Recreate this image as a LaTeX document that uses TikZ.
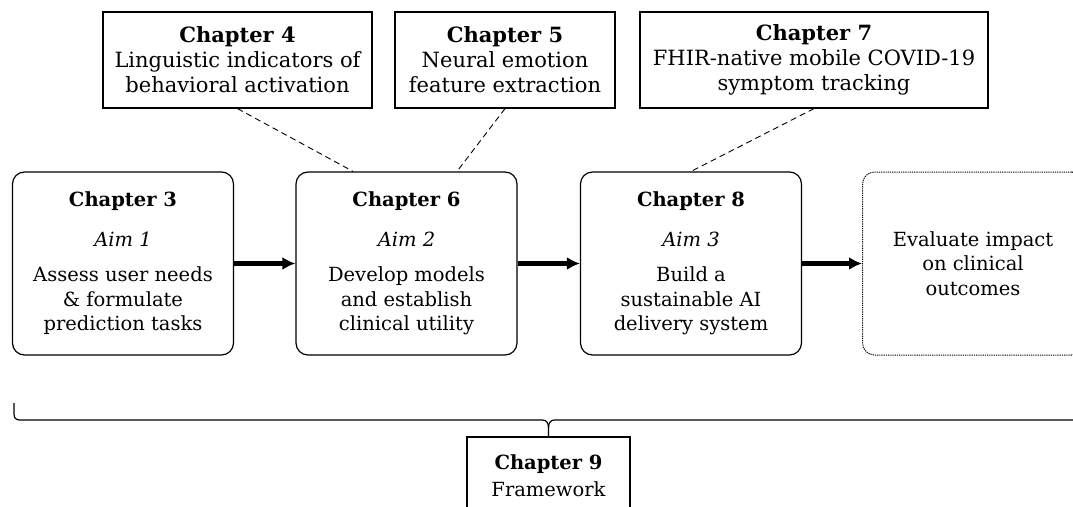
\documentclass[tikz,border=0pt]{standalone}
\usepackage{fontspec}
\setmainfont{DejaVu Serif}
\usepackage{tikz}
\usetikzlibrary{arrows.meta}

\tikzset{
	aimbox/.style={draw, fill=white, rounded corners=12pt, line width=1.2pt, minimum width=221pt, minimum height=183pt, align=center, inner sep=2pt, font=\fontsize{19.5}{24.5}\selectfont},
	sidebox/.style={draw, fill=white, line width=1.2pt, minimum height=96pt, align=center, inner sep=2pt, font=\fontsize{21}{25}\selectfont},
	flow/.style={-{Latex[length=13pt, width=13pt]}, line width=4.5pt},
	link/.style={dashed, dash pattern=on 6pt off 4pt, line width=0.9pt},
	brace/.style={line width=1.2pt}
}

\begin{document}
\begin{tikzpicture}[x=1pt, y=-1pt]

	% picture frame
	\useasboundingbox (0,0) rectangle (1073,506);
	\clip (0,0) rectangle (1073,506);

	% aims
	\node[aimbox] (ch3) at (123,263.5) {\textbf{Chapter 3}\\[15pt] \textit{Aim 1}\\[11pt] Assess user needs\\ \& formulate\\ prediction tasks};
	\node[aimbox] (ch6) at (406.5,263.5) {\textbf{Chapter 6}\\[15pt] \textit{Aim 2}\\[11pt] Develop models\\ and establish\\ clinical utility};
	\node[aimbox] (ch8) at (691,263.5) {\textbf{Chapter 8}\\[15pt] \textit{Aim 3}\\[11pt] Build a\\ sustainable AI\\ delivery system};
	\node[aimbox, densely dotted, line width=1pt] (eval) at (973,263.5) {Evaluate impact\\ on clinical\\ outcomes};

	% side chapters
	\node[sidebox, minimum width=269pt] (ch4) at (237.5,60) {\textbf{Chapter 4}\\ Linguistic indicators of\\ behavioral activation};
	\node[sidebox, minimum width=220pt] (ch5) at (505,60) {\textbf{Chapter 5}\\ Neural emotion\\ feature extraction};
	\node[sidebox, minimum width=348pt] (ch7) at (814,60) {\textbf{Chapter 7}\\ FHIR-native mobile COVID-19\\ symptom tracking};

	% arrows
	\draw[flow] (ch3) -- (ch6);
	\draw[flow] (ch6) -- (ch8);
	\draw[flow] (ch8) -- (eval);

	% dashed links
	\draw[link] (ch4.south) -- ([xshift=-53.5pt]ch6.north);
	\draw[link] (ch5.south) -- ([xshift=50.5pt]ch6.north);
	\draw[link] (ch7.south) -- (ch8.north);

	% framework
	\node[sidebox, minimum width=163pt, minimum height=78pt, font=\fontsize{19.5}{27}\selectfont] (ch9) at (548.5,476) {\textbf{Chapter 9}\\ Framework};

	% brace
	\draw[brace] (ch9.north) -- (548.5,428) .. controls (548.5,423) and (546.5,420) .. (542.5,420) -- (20,420) .. controls (16,420) and (14,418) .. (14,414) -- (14,403);
	\draw[brace] (548.5,428) .. controls (548.5,423) and (550.5,420) .. (554.5,420) -- (1077,420) .. controls (1081,420) and (1083,418) .. (1083,414) -- (1083,403);
\end{tikzpicture}
\end{document}
